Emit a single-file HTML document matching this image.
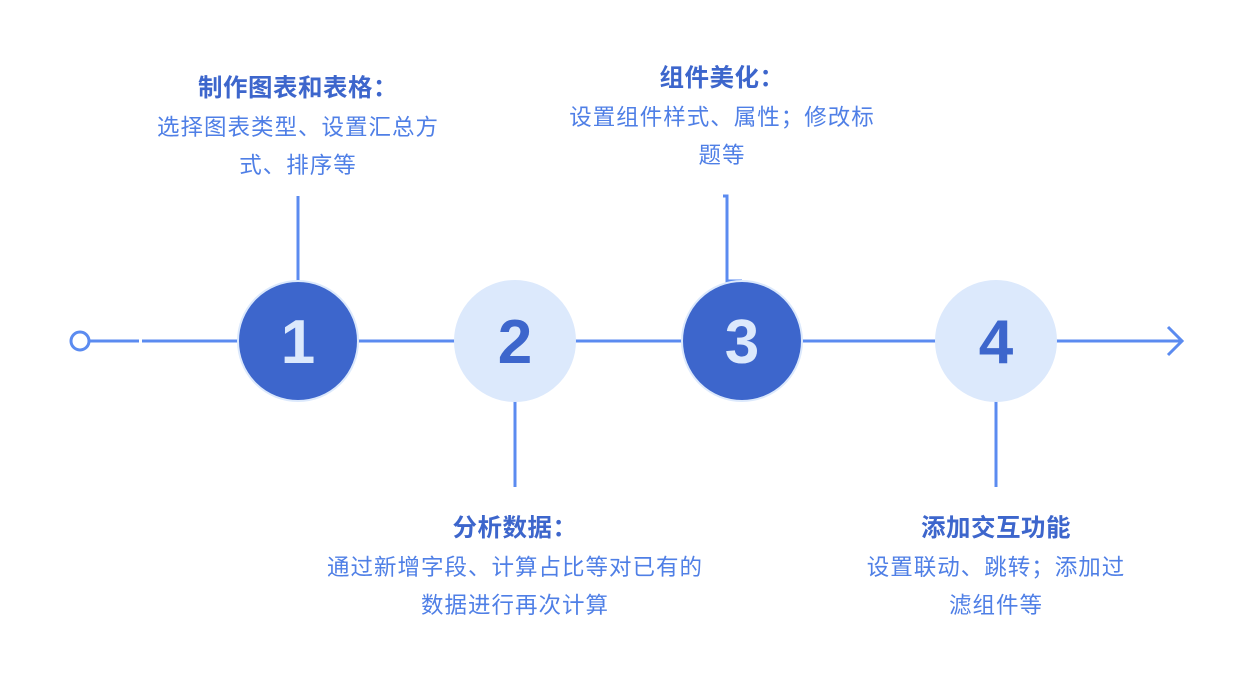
<!DOCTYPE html>
<html><head><meta charset="utf-8"><style>
body{margin:0;width:1255px;height:684px;background:#fff;position:relative;overflow:hidden;font-family:"Liberation Sans","Noto Sans CJK SC",sans-serif}
.t{position:absolute;text-align:center;width:440px}
.h{font-weight:bold;color:#3d66cc;font-size:24.5px;line-height:28px;letter-spacing:0.5px}
.b{color:#4f7fe6;font-size:22.5px;letter-spacing:1px;line-height:37.5px;margin-top:6px}
</style></head><body>
<svg width="1255" height="684" style="position:absolute;left:0;top:0">
<g stroke="#5b8bf0" stroke-width="3" fill="none">
<line x1="88" y1="341" x2="139" y2="341"/>
<line x1="142" y1="341" x2="1182" y2="341"/>
<polyline points="1168,327 1182,341 1168,355"/>
<circle cx="80" cy="341" r="9" fill="#fff"/>
<line x1="298" y1="196" x2="298" y2="282"/>
<line x1="515" y1="400" x2="515" y2="487"/>
<polyline points="723,196 727,196 727,281 742,281"/>
<line x1="996" y1="400" x2="996" y2="487"/>
</g>
<g stroke="#dce9fc" stroke-width="2">
<circle cx="298" cy="341" r="60" fill="#3d66cc"/>
<circle cx="515" cy="341" r="60" fill="#dce9fc"/>
<circle cx="742" cy="341" r="60" fill="#3d66cc"/>
<circle cx="996" cy="341" r="60" fill="#dce9fc"/>
</g>
<g font-family="Liberation Sans,sans-serif" font-weight="bold" font-size="62" text-anchor="middle">
<text x="298" y="363" fill="#dce9fc">1</text>
<text x="515" y="363" fill="#3d66cc">2</text>
<text x="742" y="363" fill="#dce9fc">3</text>
<text x="996" y="363" fill="#3d66cc">4</text>
</g>
</svg>
<div class="t" style="left:78px;top:75px"><div class="h">制作图表和表格：</div><div class="b">选择图表类型、设置汇总方<br>式、排序等</div></div>
<div class="t" style="left:502px;top:65px"><div class="h">组件美化：</div><div class="b">设置组件样式、属性；修改标<br>题等</div></div>
<div class="t" style="left:295px;top:515px"><div class="h">分析数据：</div><div class="b">通过新增字段、计算占比等对已有的<br>数据进行再次计算</div></div>
<div class="t" style="left:776px;top:515px"><div class="h">添加交互功能</div><div class="b">设置联动、跳转；添加过<br>滤组件等</div></div>
</body></html>
